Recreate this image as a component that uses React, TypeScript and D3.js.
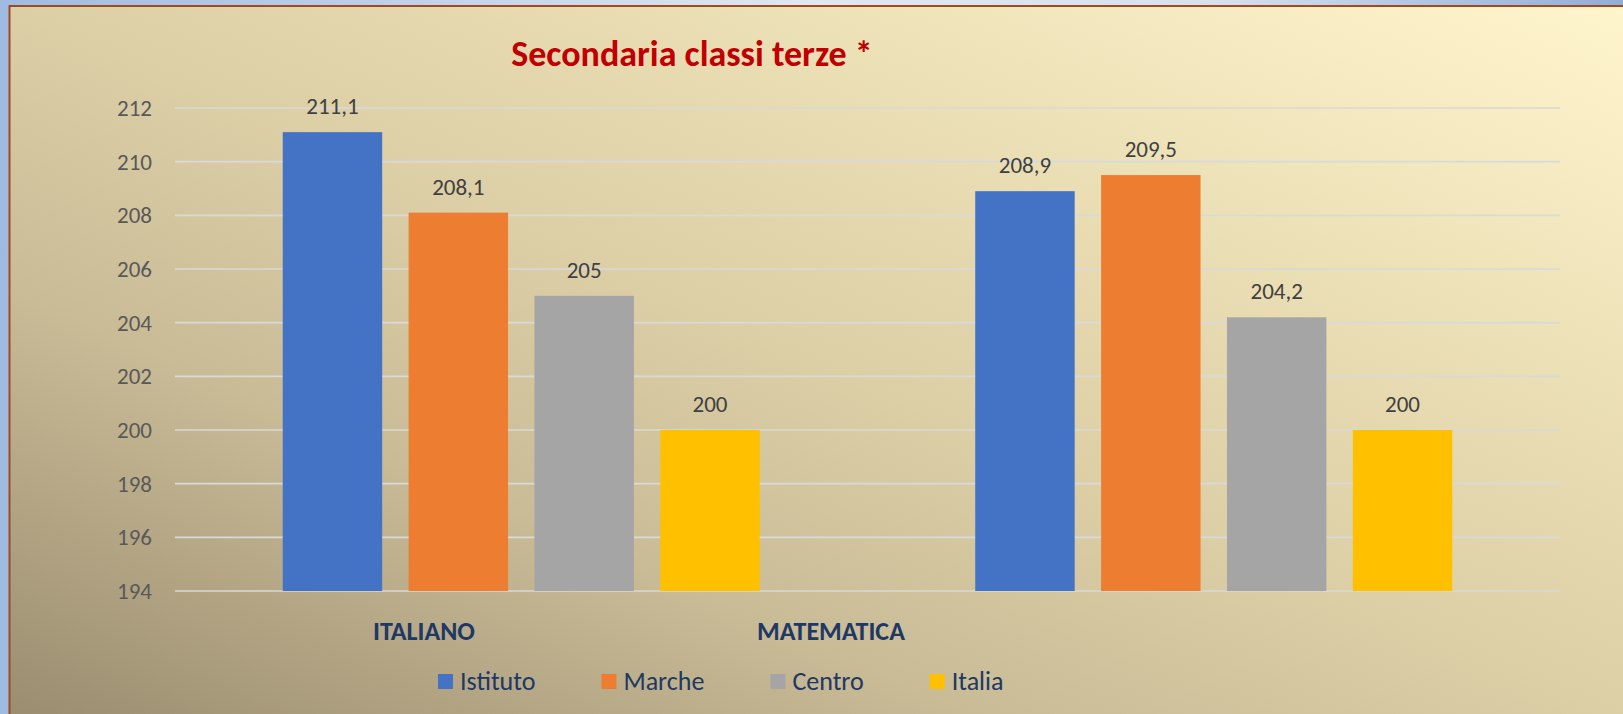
import React, { useMemo } from "react";
import * as d3 from "d3";

const title = "Secondaria classi terze *";
const categories = ["ITALIANO", "MATEMATICA"];
const series = ["Istituto", "Marche", "Centro", "Italia"];
const seriesColors = ["#4472c4", "#ed7d31", "#a5a5a5", "#ffc000"];
const valuesItaliano = [211.1, 208.1, 205, 200];
const valuesMatematica = [208.9, 209.5, 204.2, 200];
const yTicks = [194, 196, 198, 200, 202, 204, 206, 208, 210, 212];

const W = 1623;
const H = 714;
const FONT = "Carlito, Calibri, 'Liberation Sans Narrow', 'Open Sans', sans-serif";

function fmt(v: number) {
  return String(v).replace(".", ",");
}

function measure(text: string, size: number, bold = false) {
  const c = document.createElement("canvas").getContext("2d")!;
  c.font = `${bold ? "bold " : ""}${size}px ${FONT}`;
  return c.measureText(text).width;
}

export default function App() {
  const plot = { left: 175, right: 1560, top: 108, bottom: 591 };
  const y = d3.scaleLinear().domain([194, 212]).range([plot.bottom, plot.top]);
  const x0 = d3.scaleBand<string>().domain(categories).range([plot.left, plot.right]);
  const x1 = d3
    .scaleBand<string>()
    .domain(series)
    .range([0, x0.bandwidth()])
    .paddingInner(0.21)
    .paddingOuter(0.856);
  const labelX = d3.scalePoint<string>().domain(categories).range([424, 831]);
  const data = [valuesItaliano, valuesMatematica];

  const legend = useMemo(() => {
    let x = 438;
    const sq = 15;
    return series.map((s, i) => {
      const item = { name: s, color: seriesColors[i], x, tx: x + sq + 7 };
      x = item.tx + measure(s, 26) + 66;
      return item;
    });
  }, []);

  return (
    <div style={{ position: "fixed", left: 0, top: 0, width: W, height: H }}>
      <svg width={W} height={H} style={{ display: "block" }}>
        <defs>
          <linearGradient id="outer" x1="0" y1="0" x2="1" y2="0">
            <stop offset="0" stopColor="#9fbbe2" />
            <stop offset="0.5" stopColor="#dfe7f3" />
            <stop offset="0.75" stopColor="#d6e0ef" />
            <stop offset="1" stopColor="#8eaed9" />
          </linearGradient>
          <linearGradient id="bg" x1="0" y1="1" x2="1" y2="0">
            <stop offset="0" stopColor="#9a8d70" />
            <stop offset="0.3" stopColor="#c9bb96" />
            <stop offset="0.5" stopColor="#dccea5" />
            <stop offset="1" stopColor="#fff5cc" />
          </linearGradient>
        </defs>
        <rect x={0} y={0} width={W} height={H} fill="url(#outer)" />
        <rect x={9.5} y={6} width={W} height={H} fill="url(#bg)" stroke="#a24a1e" strokeWidth={2} />

        <text
          x={692}
          y={66}
          textAnchor="middle"
          fill="#c00000"
          fontFamily={FONT}
          fontWeight="bold"
          fontSize={36}
        >
          {title}
        </text>

        {yTicks.map((t) => (
          <g key={t}>
            <line x1={plot.left} x2={plot.right} y1={y(t)} y2={y(t)} stroke="#d9d9d9" strokeWidth={1.6} />
            <text
              x={152}
              y={y(t) + 8}
              textAnchor="end"
              fill="#595959"
              fontFamily={FONT}
              fontSize={23}
            >
              {t}
            </text>
          </g>
        ))}

        {categories.map((c, ci) => (
          <g key={c}>
            {series.map((s, si) => {
              const v = data[ci][si];
              const bx = (x0(c) ?? 0) + (x1(s) ?? 0);
              return (
                <g key={s}>
                  <rect
                    x={bx}
                    y={y(v)}
                    width={x1.bandwidth()}
                    height={y(194) - y(v)}
                    fill={seriesColors[si]}
                  />
                  <text
                    x={bx + x1.bandwidth() / 2}
                    y={y(v) - 18}
                    textAnchor="middle"
                    fill="#404040"
                    fontFamily={FONT}
                    fontSize={23}
                  >
                    {fmt(v)}
                  </text>
                </g>
              );
            })}
            <text
              x={labelX(c)}
              y={640}
              textAnchor="middle"
              fill="#203864"
              fontFamily={FONT}
              fontWeight="bold"
              fontSize={26}
            >
              {c}
            </text>
          </g>
        ))}

        {legend.map((l) => (
          <g key={l.name}>
            <rect x={l.x} y={674} width={15} height={15} fill={l.color} />
            <text x={l.tx} y={690} fill="#203864" fontFamily={FONT} fontSize={26}>
              {l.name}
            </text>
          </g>
        ))}
      </svg>
    </div>
  );
}
